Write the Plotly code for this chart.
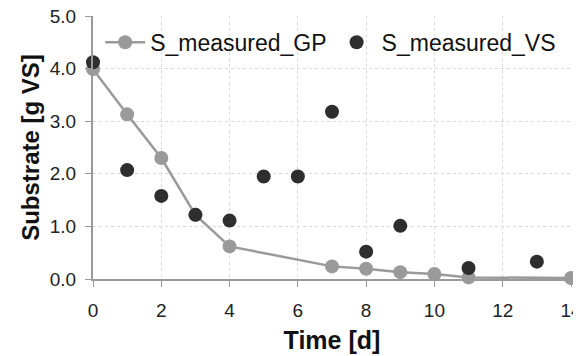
import plotly.graph_objects as go

t_gp = [0, 1, 2, 3, 4, 7, 8, 9, 10, 11, 14]
s_gp = [3.99, 3.13, 2.30, 1.22, 0.62, 0.24, 0.195, 0.13, 0.095, 0.03, 0.02]
t_vs = [0, 1, 2, 3, 4, 5, 6, 7, 8, 9, 11, 13]
s_vs = [4.12, 2.07, 1.58, 1.22, 1.11, 1.95, 1.95, 3.18, 0.52, 1.01, 0.21, 0.33]
x_ticks = [0, 2, 4, 6, 8, 10, 12, 14]
y_ticks = [0, 1, 2, 3, 4, 5]

fig = go.Figure()
fig.add_trace(go.Scatter(x=t_gp, y=s_gp, mode="lines+markers", name="S_measured_GP",
                         line=dict(color="#9a9a9a", width=2.5), cliponaxis=False,
                         marker=dict(color="#9a9a9a", size=14)))
fig.add_trace(go.Scatter(x=t_vs, y=s_vs, mode="markers", name="S_measured_VS",
                         cliponaxis=False,
                         marker=dict(color="#2e2e2e", size=14)))

fig.update_layout(
    width=573, height=348,
    margin=dict(l=85, r=10, t=8, b=77),
    paper_bgcolor="white", plot_bgcolor="white",
    font=dict(family="Liberation Sans, Arial", color="#222"),
    legend=dict(orientation="h", x=0.015, y=0.9, xanchor="left", yanchor="middle",
                font=dict(size=23, color="#111"), bgcolor="rgba(0,0,0,0)",
                itemwidth=40, tracegroupgap=0),
    showlegend=True,
)
fig.update_xaxes(range=[0, 14], tickvals=x_ticks, ticktext=[str(v) for v in x_ticks],
                 showgrid=True, gridcolor="#dadada", griddash="dot", gridwidth=1,
                 showline=True, linecolor="#9a9a9a", linewidth=2,
                 ticks="outside", ticklen=6, tickcolor="#9a9a9a",
                 tickfont=dict(size=19, color="#222"), ticklabeloverflow="allow",
                 ticklabelstandoff=7,
                 title=dict(text="<b>Time [d]</b>", font=dict(size=25, color="#111"), standoff=12),
                 zeroline=False, mirror=False, automargin=False)
fig.update_yaxes(range=[0, 5], tickvals=y_ticks, ticktext=[f"{v:.1f}" for v in y_ticks],
                 showgrid=True, gridcolor="#dadada", griddash="dot", gridwidth=1,
                 showline=True, linecolor="#9a9a9a", linewidth=2,
                 ticks="outside", ticklen=6, tickcolor="#9a9a9a",
                 tickfont=dict(size=19, color="#222"), ticklabelstandoff=5,
                 ticklabeloverflow="allow",
                 title=dict(text="<b>Substrate [g VS]</b>", font=dict(size=24, color="#111"), standoff=3),
                 zeroline=False, automargin=False)
fig.write_html("out.html")
